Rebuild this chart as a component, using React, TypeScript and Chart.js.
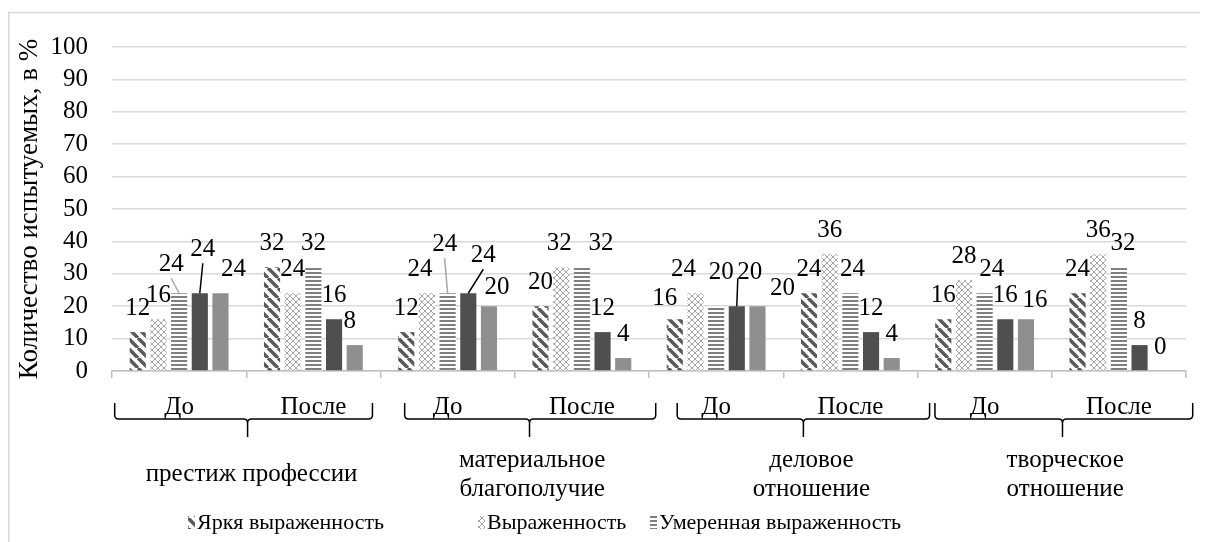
import React, { useEffect, useRef } from "react";
import { Chart, registerables } from "chart.js";

Chart.register(...registerables);

// ---- data ----
const categories = ["До", "После", "До", "После", "До", "После", "До", "После"];
const groupLabels: string[][] = [
  ["престиж профессии"],
  ["материальное", "благополучие"],
  ["деловое", "отношение"],
  ["творческое", "отношение"],
];
const seriesNames = [
  "Яркя выраженность",
  "Выраженность",
  "Умеренная выраженность",
  "Слабая выраженность",
  "Отсутствие",
];
const brightValues = [12, 32, 12, 20, 16, 24, 16, 24];
const expressedValues = [16, 24, 24, 32, 24, 36, 28, 36];
const moderateValues = [24, 32, 24, 32, 20, 24, 24, 32];
const weakValues = [24, 16, 24, 12, 20, 12, 16, 8];
const absentValues = [24, 8, 20, 4, 20, 4, 16, 0];
const yMin = 0;
const yMax = 100;
const yStep = 10;
const yTitle = "Количество испытуемых, в %";

// ---- decoration / style ----
const FONT = '"Liberation Serif"';
const FS = 25;
const LEGEND_FS = 22;
const labelNudges: Record<string, { dx?: number; dy?: number; leader?: string; lsx?: number; lsy?: number }> = {
  "2-0": { dx: -8, dy: -5, leader: "#a6a6a6" },
  "3-0": { dx: 3, dy: -20, leader: "#000" },
  "4-0": { dx: 13 },
  "4-1": { dx: -5 },
  "1-2": { dx: -7 },
  "2-2": { dx: -3, dy: -25, leader: "#a6a6a6" },
  "3-2": { dx: 15, dy: -14, leader: "#000" },
  "4-2": { dx: 8, dy: 5 },
  "1-3": { dx: -2 },
  "2-3": { dx: 19 },
  "0-4": { dx: -10, dy: 3 },
  "1-4": { dx: -12 },
  "2-4": { dx: 5, dy: -10 },
  "3-4": { dx: 13, dy: -10, leader: "#000", lsx: -12, lsy: 6 },
  "4-4": { dx: 25, dy: 6 },
  "2-5": { dx: 2 },
  "2-6": { dx: 7 },
  "4-6": { dx: 9, dy: 5 },
  "2-7": { dx: 4 },
};
const braceStart = [-0.48, 1.68, 3.71, 5.63];
const braceEnd = [1.44, 3.55, 5.59, 7.55];
const braceTip = [0.51, 2.61, 4.65, 6.58];
const groupLabelPos = [0.54, 2.63, 4.71, 6.6];
const legendX = [180, 470, 642];

function makeDiag() {
  const c = document.createElement("canvas");
  c.width = 10;
  c.height = 10;
  const g = c.getContext("2d")!;
  g.fillStyle = "#fff";
  g.fillRect(0, 0, 10, 10);
  g.strokeStyle = "#595959";
  g.lineWidth = 3.5;
  for (const o of [-10, 0, 10]) {
    g.beginPath();
    g.moveTo(o, 0);
    g.lineTo(o + 10, 10);
    g.stroke();
  }
  return g.createPattern(c, "repeat")!;
}
function makeDots() {
  const c = document.createElement("canvas");
  c.width = 6;
  c.height = 6;
  const g = c.getContext("2d")!;
  g.fillStyle = "#fff";
  g.fillRect(0, 0, 6, 6);
  g.strokeStyle = "#a6a6a6";
  g.lineWidth = 1;
  g.beginPath();
  g.moveTo(0, 0);
  g.lineTo(6, 6);
  g.moveTo(6, 0);
  g.lineTo(0, 6);
  g.stroke();
  return g.createPattern(c, "repeat")!;
}
function makeHLines() {
  const c = document.createElement("canvas");
  c.width = 4;
  c.height = 4;
  const g = c.getContext("2d")!;
  g.fillStyle = "#fff";
  g.fillRect(0, 0, 4, 4);
  g.fillStyle = "#7f7f7f";
  g.fillRect(0, 0, 4, 2);
  return g.createPattern(c, "repeat")!;
}

export default function App() {
  const ref = useRef<HTMLCanvasElement>(null);
  useEffect(() => {
    const canvas = ref.current!;
    const fills: (string | CanvasPattern)[] = [makeDiag(), makeDots(), makeHLines(), "#4f4f4f", "#8f8f8f"];
    const series = [brightValues, expressedValues, moderateValues, weakValues, absentValues];

    const decor = {
      id: "decor",
      beforeDraw(ch: any) {
        const ctx = ch.ctx;
        ctx.save();
        ctx.strokeStyle = "#d9d9d9";
        ctx.lineWidth = 1.5;
        ctx.strokeRect(0.75, 4.5, ch.width + 20, ch.height + 20);
        ctx.restore();
      },
      afterDatasetsDraw(ch: any) {
        const ctx = ch.ctx;
        ctx.save();
        ctx.font = `${FS}px ${FONT}`;
        ctx.textAlign = "center";
        ctx.textBaseline = "middle";
        ch.data.datasets.forEach((ds: any, si: number) => {
          const meta = ch.getDatasetMeta(si);
          meta.data.forEach((bar: any, ci: number) => {
            const n = labelNudges[`${si}-${ci}`] || {};
            const lx = bar.x + (n.dx || 0);
            const ly = bar.y - 24 + (n.dy || 0);
            if (n.leader) {
              ctx.strokeStyle = n.leader;
              ctx.lineWidth = 1.5;
              ctx.beginPath();
              ctx.moveTo(lx + (n.lsx || 0), ly + (n.lsy ?? 14));
              ctx.lineTo(bar.x, bar.y);
              ctx.stroke();
            }
            ctx.fillStyle = "#000";
            ctx.fillText(String(ds.data[ci]), lx, ly);
          });
        });
        ctx.restore();
      },
      afterDraw(ch: any) {
        const ctx = ch.ctx;
        const xs = ch.scales.x;
        const p0 = xs.getPixelForValue(0);
        const w = xs.getPixelForValue(1) - p0;
        const px = (u: number) => p0 + u * w;
        ctx.save();
        ctx.strokeStyle = "#000";
        ctx.lineWidth = 1.5;
        const yTop = 395;
        const yMid = 411;
        const yTipB = 429;
        const r = 4;
        for (let g = 0; g < 4; g++) {
          const x1 = px(braceStart[g]);
          const x2 = px(braceEnd[g]);
          const xt = px(braceTip[g]);
          ctx.beginPath();
          ctx.moveTo(x1, yTop);
          ctx.lineTo(x1, yMid - r);
          ctx.quadraticCurveTo(x1, yMid, x1 + r, yMid);
          ctx.lineTo(xt - r, yMid);
          ctx.quadraticCurveTo(xt, yMid, xt, yMid + r);
          ctx.lineTo(xt, yTipB);
          ctx.moveTo(xt, yMid + r);
          ctx.quadraticCurveTo(xt, yMid, xt + r, yMid);
          ctx.lineTo(x2 - r, yMid);
          ctx.quadraticCurveTo(x2, yMid, x2, yMid - r);
          ctx.lineTo(x2, yTop);
          ctx.stroke();
        }
        ctx.font = `${FS}px ${FONT}`;
        ctx.fillStyle = "#000";
        ctx.textAlign = "center";
        ctx.textBaseline = "middle";
        groupLabels.forEach((lines, g) => {
          const xc = px(groupLabelPos[g]);
          if (lines.length === 1) {
            ctx.fillText(lines[0], xc, 466);
          } else {
            lines.forEach((t, i) => ctx.fillText(t, xc, 452 + i * 29));
          }
        });
        ctx.font = `${LEGEND_FS}px ${FONT}`;
        ctx.textAlign = "left";
        for (let i = 0; i < 3; i++) {
          const x = legendX[i];
          ctx.fillStyle = fills[i] as any;
          ctx.fillRect(x, 508, 7, 13);
          ctx.fillStyle = "#000";
          ctx.fillText(seriesNames[i], x + 9, 515);
        }
        ctx.restore();
      },
    };

    const chart = new Chart(canvas, {
      type: "bar",
      data: {
        labels: categories,
        datasets: series.map((v, i) => ({
          label: seriesNames[i],
          data: v,
          backgroundColor: fills[i] as any,
          borderWidth: 0,
          categoryPercentage: 0.77,
          barPercentage: 0.78,
        })),
      },
      options: {
        animation: false,
        responsive: false,
        devicePixelRatio: 1,
        layout: { padding: { top: 23, right: 22, left: 0, bottom: 0 } },
        plugins: { legend: { display: false }, tooltip: { enabled: false } },
        scales: {
          x: {
            grid: {
              offset: true,
              drawOnChartArea: false,
              drawTicks: true,
              tickLength: 7,
              color: "#bfbfbf",
              lineWidth: 1.5,
            },
            border: { display: true, color: "#bfbfbf", width: 1.5 },
            ticks: {
              font: { family: FONT, size: FS },
              color: "#000",
              padding: 14,
              maxRotation: 0,
              autoSkip: false,
            },
            afterFit: (s: any) => {
              s.height = 171;
            },
          },
          y: {
            min: yMin,
            max: yMax,
            ticks: {
              stepSize: yStep,
              autoSkip: false,
              font: { family: FONT, size: FS },
              color: "#000",
              padding: 24,
            },
            grid: { color: "#d9d9d9", lineWidth: 1.5, drawTicks: false },
            border: { display: false },
            title: {
              display: true,
              text: yTitle,
              font: { family: FONT, size: 27 },
              color: "#000",
              padding: { top: 6, bottom: 0 },
            },
            afterFit: (s: any) => {
              s.width = 104;
            },
          },
        },
      },
      plugins: [decor],
    } as any);
    return () => chart.destroy();
  }, []);
  return <canvas ref={ref} width={1200} height={534} style={{ display: "block" }} />;
}
